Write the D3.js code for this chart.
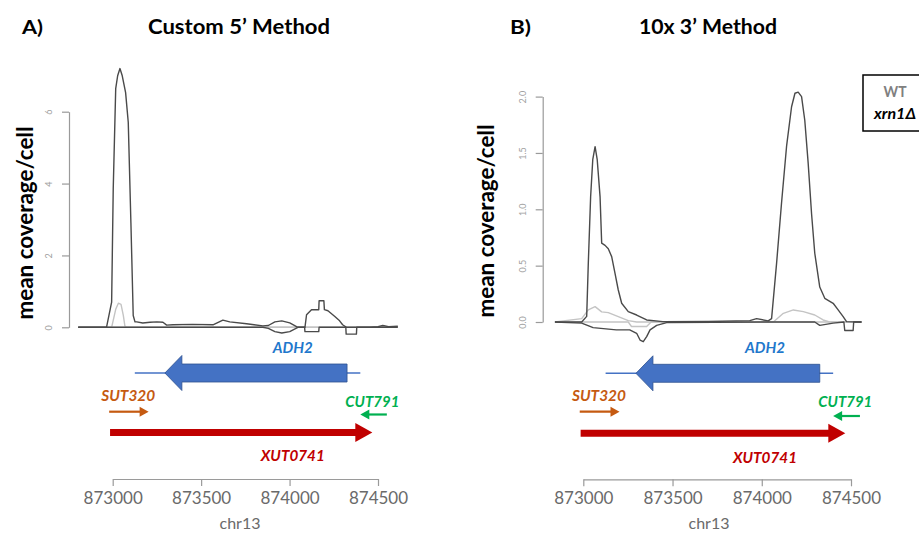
<!DOCTYPE html>
<html>
<head>
<meta charset="utf-8">
<script src="https://cdn.jsdelivr.net/npm/d3@7"></script>
<style>
  html, body { margin: 0; padding: 0; background: #fff; }
  svg { display: block; }
  text { font-family: Lato, "Open Sans", sans-serif; }
</style>
</head>
<body>
<svg id="chart" width="919" height="534"></svg>
<script>
// ---------------- DATA ----------------
const panelTitles = ["Custom 5\u2019 Method", "10x 3\u2019 Method"];
const panelLetters = ["A)", "B)"];
const yLabel = "mean coverage/cell";
const xLabel = "chr13";
const xTicks = [873000, 873500, 874000, 874500];
const yTicksA = [0, 2, 4, 6];
const yTicksB = [0, 0.5, 1.0, 1.5, 2.0];
const yTickLabelsA = ["0", "2", "4", "6"];
const yTickLabelsB = ["0.0", "0.5", "1.0", "1.5", "2.0"];
const legendLabels = ["WT", "xrn1\u0394"];

// Panel A (Custom 5'): [genomic position, mean coverage]
const A_xrn1_plus = [
  [872805,0],[872965,0],[872994,0.7],[873003,3.85],[873017,6.64],[873028,7.0],
  [873041,7.2],[873054,7.0],[873073,6.53],[873088,5.7],[873103,2.9],[873116,0.33],
  [873126,0.15],[873136,0.15],[873170,0.12],[873211,0.14],[873250,0.15],[873284,0.14],
  [873305,0.06],[873341,0.07],[873450,0.08],[873567,0.07],[873623,0.2],[873662,0.15],
  [873757,0.1],[873849,0.04],[873880,0.05],[873917,0.15],[873956,0.18],[874001,0.125],
  [874047,0],[874087,0],[874096,0.35],[874124,0.49],[874165,0.49],[874167,0.74],
  [874194,0.74],[874197,0.49],[874217,0.46],[874256,0.3],[874283,0.18],[874300,0.07],
  [874322,0],[874454,0],[874500,0.02],[874527,0.05],[874560,0.02],[874612,0.03]
];
const A_xrn1_minus = [
  [872805,0],[873849,0],[873880,-0.03],[873917,-0.12],[873956,-0.16],[874001,-0.12],
  [874047,0],[874085,0],[874087,-0.12],[874165,-0.12],[874167,0],[874318,0],
  [874320,-0.19],[874378,-0.19],[874380,0],[874612,0]
];
const A_wt_plus = [
  [872805,0],[872994,0],[873017,0.5],[873032,0.67],[873047,0.64],[873060,0.33],
  [873069,0.03],[873080,0],[874612,0]
];
const A_wt_minus = [[872805,0],[874612,0]];

// Panel B (10x 3')
const B_xrn1_plus = [
  [872841,0],[872991,0],[873019,0.05],[873028,0.52],[873041,1.11],[873053,1.44],
  [873066,1.556],[873078,1.44],[873094,1.11],[873103,0.7],[873122,0.68],[873140,0.65],
  [873159,0.58],[873178,0.43],[873196,0.284],[873215,0.166],[873252,0.092],[873299,0.062],
  [873355,0.018],[873446,0.003],[873700,0.005],[873933,0.012],[873971,0.03],[874036,0.01],
  [874055,0.03],[874083,0.52],[874111,1.06],[874139,1.56],[874167,1.91],[874186,2.03],
  [874204,2.04],[874223,2.0],[874241,1.79],[874260,1.41],[874279,0.96],[874297,0.61],
  [874325,0.31],[874353,0.21],[874400,0.166],[874428,0.107],[874456,0.047],[874475,0.003],
  [874559,0]
];
const B_xrn1_minus = [
  [872841,0],[872991,-0.01],[873055,-0.05],[873185,-0.07],[873260,-0.07],[873299,-0.1],
  [873318,-0.16],[873336,-0.175],[873355,-0.13],[873374,-0.07],[873411,-0.03],[873467,-0.005],
  [874000,0],[874297,0],[874325,-0.03],[874400,-0.01],[874460,0],[874465,-0.075],
  [874512,-0.075],[874515,0],[874559,0]
];
const B_wt_plus = [
  [872841,0],[872991,0.03],[873028,0.107],[873066,0.136],[873103,0.09],[873140,0.083],
  [873196,0.047],[873252,0.012],[873299,0],[874065,0],[874121,0.077],[874177,0.107],
  [874233,0.092],[874297,0.062],[874344,0.018],[874380,0],[874559,0]
];
const B_wt_minus = [
  [872841,0],[873252,0],[873270,-0.04],[873355,-0.04],[873380,0],[874559,0]
];

// Gene annotations (genomic coordinates)
const geneNames   = ["ADH2", "SUT320", "CUT791", "XUT0741"];
const geneStart   = [873295, 872980, 874400, 872985];   // 5'->3' arrow tail/tip span (min)
const geneEnd     = [874325, 873203, 874550, 874468];   // (max)
const geneStrand  = ["-", "+", "-", "+"];
const adh2UtrSpan = [873125, 874400];

// ---------------- LAYOUT / STYLE ----------------
const svg = d3.select("#chart");
const DARK = "#4a4a4a", LIGHT = "#c4c4c4", AXIS = "#9a9a9a", AXTXT = "#6a6a6a";
const geneColor = {"ADH2":"#4472C4", "SUT320":"#C55A11", "CUT791":"#00B050", "XUT0741":"#C00000"};
const labelColor = {"ADH2":"#1F78CC", "SUT320":"#C55A11", "CUT791":"#00B050", "XUT0741":"#C00000"};

const panels = [
  { xr:[112.7, 378], yd:[0,6], yr:[327.3,111.7], yTicks:yTicksA, yLabs:yTickLabelsA,
    data:{xp:A_xrn1_plus, xm:A_xrn1_minus, wp:A_wt_plus, wm:A_wt_minus},
    letterX:22, titleX:239, titleW:182, yLabX:33, yLabY:223, chrX:240, shift:0,
    xAxisY:479, gy:{adh2:373, sutLab:401, sut:411.7, cutLab:407, cut:414.5, xut:432.5, xutLab:461, adhLab:353} },
  { xr:[583.3, 851], yd:[0,2], yr:[322,96.6], yTicks:yTicksB, yLabs:yTickLabelsB,
    data:{xp:B_xrn1_plus, xm:B_xrn1_minus, wp:B_wt_plus, wm:B_wt_minus},
    letterX:510, titleX:708, titleW:138, yLabX:494, yLabY:221, chrX:709, shift:0,
    xAxisY:479.3, gy:{adh2:373.3, sutLab:401, sut:411.7, cutLab:407, cut:416, xut:433.3, xutLab:463, adhLab:353} }
];

panels.forEach((p, i) => {
  const g = svg.append("g");
  const x = d3.scaleLinear().domain([873000, 874500]).range(p.xr);
  const y = d3.scaleLinear().domain(p.yd).range(p.yr);

  // titles
  g.append("text").attr("x", p.letterX).attr("y", 34)
    .attr("font-size", 19).attr("font-weight", 700).attr("fill", "#000")
    .attr("textLength", 21).attr("lengthAdjust", "spacingAndGlyphs")
    .text(panelLetters[i]);
  g.append("text").attr("x", p.titleX).attr("y", 34).attr("text-anchor", "middle")
    .attr("font-size", 20).attr("font-weight", 700).attr("fill", "#000")
    .attr("textLength", p.titleW).attr("lengthAdjust", "spacingAndGlyphs")
    .text(panelTitles[i]);

  // y label
  g.append("text").attr("transform", `translate(${p.yLabX},${p.yLabY}) rotate(-90)`)
    .attr("text-anchor", "middle").attr("font-size", 22).attr("font-weight", 700)
    .attr("textLength", 193).attr("lengthAdjust", "spacingAndGlyphs")
    .text(yLabel);

  // y axis
  const yAx = g.append("g").attr("transform", `translate(${p.xr[0] - (i===0 ? 43.7 : 40.6)},0)`)
    .call(d3.axisLeft(y).tickValues(p.yTicks).tickSize(7).tickSizeOuter(0)
      .tickFormat((d, k) => p.yLabs[k]));
  yAx.select(".domain").attr("stroke", AXIS).attr("stroke-width", 1.2);
  yAx.selectAll(".tick line").attr("stroke", AXIS).attr("stroke-width", 1.2);
  yAx.selectAll(".tick text").attr("transform", "rotate(-90)")
    .attr("x", 0).attr("y", -17).attr("dy", "0em").attr("text-anchor", "middle")
    .attr("font-size", 9).attr("fill", "#a0a0a0")
    .attr("font-family", "'Liberation Sans', Arial, sans-serif");

  // coverage lines
  const line = d3.line().x(d => x(d[0])).y(d => y(d[1]));
  [["wm", LIGHT], ["wp", LIGHT], ["xm", DARK], ["xp", DARK]].forEach(([k, c]) => {
    g.append("path").datum(p.data[k]).attr("d", line)
      .attr("fill", "none").attr("stroke", c).attr("stroke-width", 1.4)
      .attr("stroke-linejoin", "round");
  });

  // ---- gene annotations ----
  const gy = p.gy;
  // ADH2
  const ai = geneNames.indexOf("ADH2");
  g.append("line").attr("x1", x(adh2UtrSpan[0])).attr("x2", x(adh2UtrSpan[1]))
    .attr("y1", gy.adh2).attr("y2", gy.adh2).attr("stroke", geneColor.ADH2).attr("stroke-width", 1.5);
  const tipA = x(geneStart[ai]), endA = x(geneEnd[ai]), baseA = tipA + 17;
  g.append("path")
    .attr("d", `M${tipA},${gy.adh2} L${baseA},${gy.adh2-17.5} L${baseA},${gy.adh2-9} L${endA},${gy.adh2-9}
               L${endA},${gy.adh2+9} L${baseA},${gy.adh2+9} L${baseA},${gy.adh2+17.5} Z`)
    .attr("fill", geneColor.ADH2).attr("stroke", "#2F528F").attr("stroke-width", 0.8);

  function thinArrow(name, yy, w, headL, headH) {
    const k = geneNames.indexOf(name);
    const s = x(geneStart[k]), e = x(geneEnd[k]);
    const plus = geneStrand[k] === "+";
    const tail = plus ? s : e, tip = plus ? e : s, dir = plus ? 1 : -1;
    const base = tip - dir * headL;
    g.append("line").attr("x1", tail).attr("x2", base + dir * 1).attr("y1", yy).attr("y2", yy)
      .attr("stroke", geneColor[name]).attr("stroke-width", w);
    g.append("path").attr("d", `M${tip},${yy} L${base},${yy-headH} L${base},${yy+headH} Z`)
      .attr("fill", geneColor[name]);
  }
  thinArrow("SUT320", gy.sut, 2.2, 9, 5);
  thinArrow("CUT791", gy.cut, 2.2, 9, 5);
  thinArrow("XUT0741", gy.xut, 7, 17, 9.5);

  function geneLabel(name, pos, yy, w) {
    g.append("text").attr("x", x(pos)).attr("y", yy).attr("text-anchor", "middle")
      .attr("font-size", 16).attr("font-weight", 700).attr("font-style", "italic")
      .attr("fill", labelColor[name])
      .attr("textLength", w).attr("lengthAdjust", "spacingAndGlyphs")
      .text(name);
  }
  geneLabel("ADH2", 874018, gy.adhLab, 40);
  geneLabel("SUT320", 873088, gy.sutLab, 54);
  geneLabel("CUT791", 874468, gy.cutLab, 54);
  geneLabel("XUT0741", 874018, gy.xutLab, 64);

  // genomic x axis
  const xAx = g.append("g").attr("transform", `translate(0,${p.xAxisY})`)
    .call(d3.axisBottom(x).tickValues(xTicks).tickSize(7).tickSizeOuter(0).tickPadding(6)
      .tickFormat(d3.format("d")));
  xAx.select(".domain").attr("stroke", AXIS).attr("stroke-width", 1.2);
  xAx.selectAll(".tick line").attr("stroke", AXIS).attr("stroke-width", 1.2);
  xAx.selectAll(".tick text").attr("font-size", 17).attr("fill", AXTXT)
    .attr("font-family", "'Liberation Sans', Arial, sans-serif");
  g.append("text").attr("x", p.chrX).attr("y", 529).attr("text-anchor", "middle")
    .attr("font-size", 16).attr("fill", AXTXT)
    .attr("font-family", "'Liberation Sans', Arial, sans-serif").text(xLabel);
});

// legend
const lg = svg.append("g");
lg.append("rect").attr("x", 863).attr("y", 75).attr("width", 70).attr("height", 56)
  .attr("fill", "#fff").attr("stroke", "#000").attr("stroke-width", 1.5);
lg.append("text").attr("x", 895).attr("y", 97).attr("text-anchor", "middle")
  .attr("font-size", 15).attr("font-weight", 700).attr("fill", "#808080")
  .attr("textLength", 23).attr("lengthAdjust", "spacingAndGlyphs").text(legendLabels[0]);
lg.append("text").attr("x", 895).attr("y", 119).attr("text-anchor", "middle")
  .attr("font-size", 15).attr("font-weight", 700).attr("font-style", "italic").attr("fill", "#000")
  .attr("textLength", 42).attr("lengthAdjust", "spacingAndGlyphs").text(legendLabels[1]);
</script>
</body>
</html>
